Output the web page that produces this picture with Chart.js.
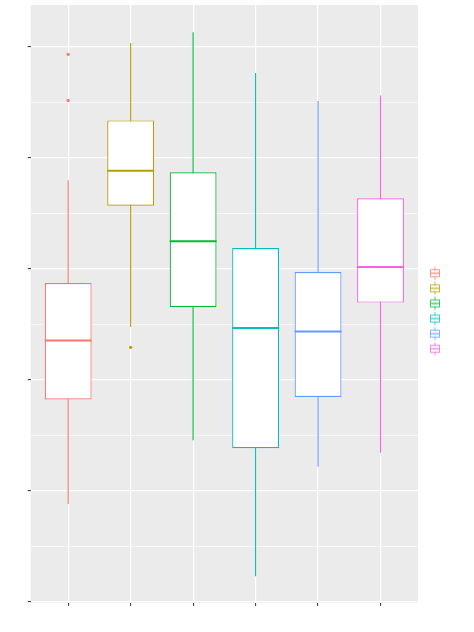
<!DOCTYPE html>
<html><head><meta charset="utf-8">
<script src="https://cdn.jsdelivr.net/npm/chart.js@4/dist/chart.umd.min.js"></script>
<style>html,body{margin:0;padding:0;background:#fff;} #wrap{width:474px;height:632px;position:relative;}</style>
</head><body><div id="wrap"><canvas id="c"></canvas></div>
<script>
// ---- data ----
const categories = ['1', '2', '3', '4', '5', '6'];
const colors = ['#F8766D', '#B79F00', '#00BA38', '#00BFC4', '#619CFF', '#F564E3'];
const whiskerLow  = [0.882, 2.476, 1.455, 0.231, 1.216, 1.342];
const q1          = [1.822, 3.568, 2.656, 1.383, 1.846, 2.695];
const median      = [2.353, 3.883, 3.247, 2.467, 2.434, 3.015];
const q3          = [2.872, 4.336, 3.868, 3.187, 2.971, 3.634];
const whiskerHigh = [3.796, 5.033, 5.129, 4.763, 4.511, 4.559];
const outlierCategory = [1, 1, 2];
const outlierValue    = [4.931, 4.516, 2.292];
const yTicks = [0, 0.5, 1, 1.5, 2, 2.5, 3, 3.5, 4, 4.5, 5];
const xTicks = [1, 2, 3, 4, 5, 6];

// ---- legend key glyphs ----
function makeKey(color) {
  const c = document.createElement('canvas');
  c.width = 12; c.height = 14;
  const g = c.getContext('2d');
  g.globalAlpha = 0.75;
  g.strokeStyle = color; g.lineWidth = 1;
  g.beginPath(); g.moveTo(6, 0.5); g.lineTo(6, 13.5); g.stroke();
  g.fillStyle = '#fff';
  g.fillRect(1.5, 3.5, 9, 7);
  g.strokeRect(1.5, 3.5, 9, 7);
  g.beginPath(); g.moveTo(1.5, 7); g.lineTo(10.5, 7); g.lineWidth = 1.4; g.stroke();
  return c;
}
const keyImages = colors.map(makeKey);

const panelBg = {
  id: 'panelBg',
  beforeDraw(chart) {
    const a = chart.chartArea, ctx = chart.ctx;
    ctx.save(); ctx.fillStyle = '#EBEBEB';
    ctx.fillRect(a.left, a.top, a.right - a.left, a.bottom - a.top);
    ctx.restore();
  }
};

const isMajor = v => Math.abs(v - Math.round(v)) < 1e-9;

const whiskerSets = categories.map((c, i) => ({
  type: 'line',
  data: [{x: i + 1, y: whiskerLow[i]}, {x: i + 1, y: whiskerHigh[i]}],
  borderColor: colors[i], borderWidth: 1.1, pointRadius: 0, fill: false,
  order: 3
}));

const boxSet = {
  type: 'bar',
  data: categories.map((c, i) => ({x: i + 1, y: [q1[i], q3[i]]})),
  backgroundColor: '#FFFFFF',
  borderColor: colors,
  borderWidth: 1.2,
  borderSkipped: false,
  barPercentage: 0.75,
  categoryPercentage: 1,
  order: 2
};

const medianSet = {
  type: 'scatter',
  data: categories.map((c, i) => ({x: i + 1, y: median[i]})),
  pointStyle: 'line',
  borderColor: colors,
  borderWidth: 2,
  pointRadius: ctx => {
    const s = ctx.chart.scales.x;
    return Math.abs(s.getPixelForValue(1.375) - s.getPixelForValue(1));
  },
  order: 1
};

const outlierSet = {
  type: 'scatter',
  data: outlierValue.map((v, i) => ({x: outlierCategory[i], y: v})),
  backgroundColor: outlierCategory.map(k => colors[k - 1]),
  borderColor: outlierCategory.map(k => colors[k - 1]),
  pointRadius: 1.6, borderWidth: 0,
  order: 0
};

new Chart(document.getElementById('c'), {
  type: 'bar',
  data: { datasets: [...whiskerSets, boxSet, medianSet, outlierSet] },
  options: {
    responsive: true, maintainAspectRatio: false, animation: false,
    layout: { padding: { top: 5, left: 27.7, right: 12.1, bottom: 15 } },
    plugins: {
      tooltip: { enabled: false },
      legend: {
        position: 'right', align: 'center',
        onClick: null,
        labels: {
          usePointStyle: true, pointStyleWidth: 23.8, boxHeight: 10, padding: 5.1,
          font: { size: 10 },
          generateLabels: () => categories.map((c, i) => ({
            text: '', pointStyle: keyImages[i], fillStyle: colors[i], strokeStyle: colors[i],
            lineWidth: 0, hidden: false, datasetIndex: i
          }))
        }
      }
    },
    scales: {
      x: {
        type: 'linear', min: 0.4, max: 6.6, offset: false,
        afterBuildTicks: s => { s.ticks = xTicks.map(v => ({value: v})); },
        afterFit: s => { s.height = 14; },
        ticks: { display: false },
        border: { display: false },
        grid: { offset: false, color: '#FFFFFF', lineWidth: 1.2, tickColor: '#333333', tickLength: 3, tickWidth: 1 }
      },
      y: {
        type: 'linear', min: -0.01, max: 5.375,
        afterBuildTicks: s => { s.ticks = yTicks.map(v => ({value: v})); },
        ticks: { display: false },
        border: { display: false },
        grid: {
          offset: false,
          color: '#FFFFFF',
          lineWidth: c => (c.tick && isMajor(c.tick.value)) ? 1.2 : 0.6,
          tickColor: c => (c.tick && isMajor(c.tick.value)) ? '#333333' : 'rgba(0,0,0,0)',
          tickLength: 3, tickWidth: 1
        }
      }
    }
  },
  plugins: [panelBg]
});
</script>
</body></html>
